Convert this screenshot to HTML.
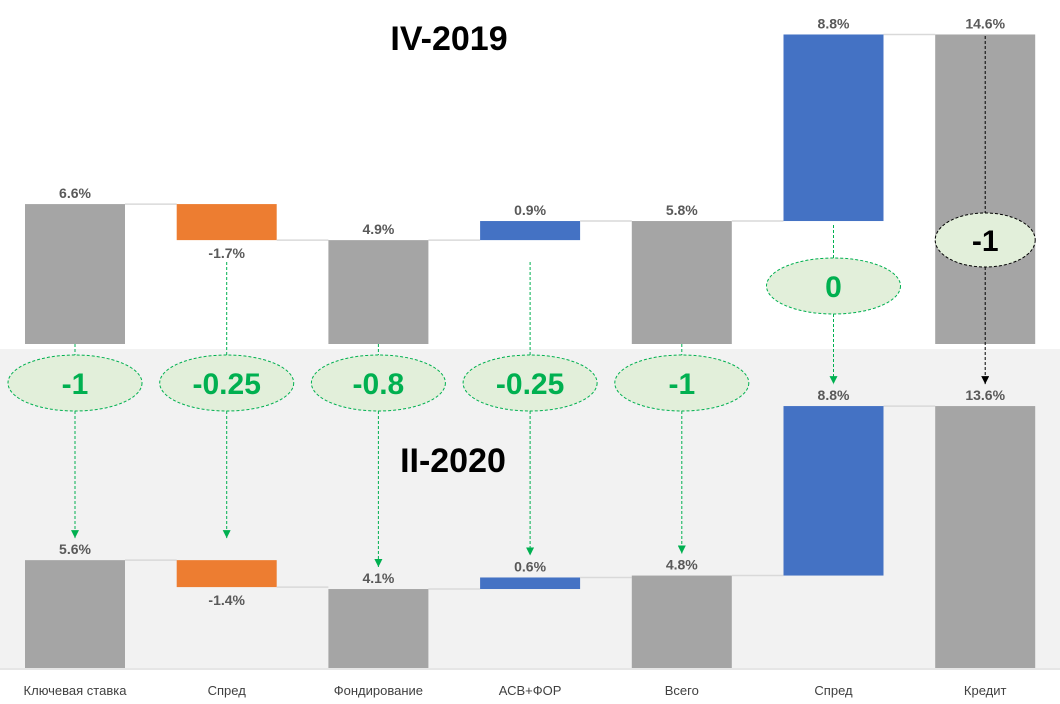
<!DOCTYPE html>
<html><head><meta charset="utf-8"><style>
body{margin:0;background:#fff}
svg{display:block;font-family:"Liberation Sans","DejaVu Sans",sans-serif}
</style></head><body>
<svg id="c" width="1060" height="704">
<defs>
<marker id="ag" markerWidth="8" markerHeight="8" refX="8" refY="4" orient="auto" markerUnits="userSpaceOnUse"><path d="M0,0 L8,4 L0,8 Z" fill="#00b050"/></marker>
<marker id="ab" markerWidth="8" markerHeight="8" refX="8" refY="4" orient="auto" markerUnits="userSpaceOnUse"><path d="M0,0 L8,4 L0,8 Z" fill="#000"/></marker>
</defs>
<rect x="0" y="349" width="1060" height="321" fill="#f2f2f2"/>
<text x="449" y="50" text-anchor="middle" font-size="34" font-weight="bold" fill="#000">IV-2019</text>
<text x="453" y="472" text-anchor="middle" font-size="34" font-weight="bold" fill="#000">II-2020</text>
<line x1="0" y1="669" x2="1060" y2="669" stroke="#d9d9d9"/>
<g id="g"></g>
</svg>
<script>
const categories=["Ключевая ставка","Спред","Фондирование","АСВ+ФОР","Всего","Спред","Кредит"];
const kinds=["total","delta","total","delta","total","delta","total"];
const topValues=[6.6,-1.7,4.9,0.9,5.8,8.8,14.6];
const bottomValues=[5.6,-1.4,4.1,0.6,4.8,8.8,13.6];
const topLabels=["6.6%","-1.7%","4.9%","0.9%","5.8%","8.8%","14.6%"];
const bottomLabels=["5.6%","-1.4%","4.1%","0.6%","4.8%","8.8%","13.6%"];
const changes=["-1","-0.25","-0.8","-0.25","-1","0","-1"];
const NS="http://www.w3.org/2000/svg",G=document.getElementById('g');
function el(t,a,txt){const e=document.createElementNS(NS,t);for(const k in a)e.setAttribute(k,a[k]);if(txt!==undefined)e.textContent=txt;G.appendChild(e);return e;}
const xC=i=>75+i*151.7, BW=100;
const yTop=v=>344-v*21.2, yBot=v=>668-v*19.26;
function color(i,v){if(kinds[i]==="total")return"#a5a5a5";return v<0?"#ed7d31":"#4472c4";}
function panel(vals,labels,y,tag){
  let run=0;const res=[];
  vals.forEach((v,i)=>{
    let a,b;
    if(kinds[i]==="total"){a=0;b=v;run=v;}else{a=run;b=run+v;run=b;}
    const y1=y(Math.max(a,b)),y2=y(Math.min(a,b));
    if(i>0){const p=res[i-1];const l=el('line',{x1:xC(i-1)+BW/2,x2:xC(i)-BW/2,y1:p.endY,y2:p.endY,stroke:"#d9d9d9","stroke-width":1.5});
      }
    const r=el('rect',{x:xC(i)-BW/2,y:y1,width:BW,height:y2-y1,fill:color(i,v)});
    
    const neg=v<0;
    const t=el('text',{x:xC(i),y:neg?y2+18:y1-6,"text-anchor":"middle","font-size":14,"font-weight":"bold",fill:"#595959"},labels[i]);
    
    res.push({top:y1,bot:y2,endY:y(b),neg});
  });
  return res;
}
const T=panel(topValues,topLabels,yTop,'top');
const B=panel(bottomValues,bottomLabels,yBot,'bottom');
categories.forEach((c,i)=>{
  const t=el('text',{x:xC(i),y:695,"text-anchor":"middle","font-size":13,fill:"#404040"},c);
  
});
function dline(x,y1,y2,col,mk){const l=el('line',{x1:x,y1:y1,x2:x,y2:y2,stroke:col,"stroke-width":1,"stroke-dasharray":"3,2"});if(mk)l.setAttribute('marker-end',mk);
  }
changes.forEach((c,i)=>{
  let cx=xC(i),cy=383,rx=67,ry=28,col="#00b050",stroke="#00b050",mk="url(#ag)";
  if(i===5){cy=286;}
  if(i===6){cy=240;rx=50;ry=27;col="#000";stroke="#000";mk="url(#ab)";}
  let sY;
  if(i===6)sY=36;else if(i===1||i===3)sY=262;else if(i===5)sY=T[i].bot+4;else sY=T[i].bot;
  dline(cx,sY,cy-ry,stroke);
  const endY=B[i].top-22;
  dline(cx,cy+ry,endY,stroke,mk);
  const e=el('ellipse',{cx:cx,cy:cy,rx:rx,ry:ry,fill:"#e2efda",stroke:stroke,"stroke-width":1,"stroke-dasharray":"3,2"});
  
  const t=el('text',{x:cx,y:cy+11,"text-anchor":"middle","font-size":30,"font-weight":"bold",fill:col},c);
  
});
</script>
</body></html>
